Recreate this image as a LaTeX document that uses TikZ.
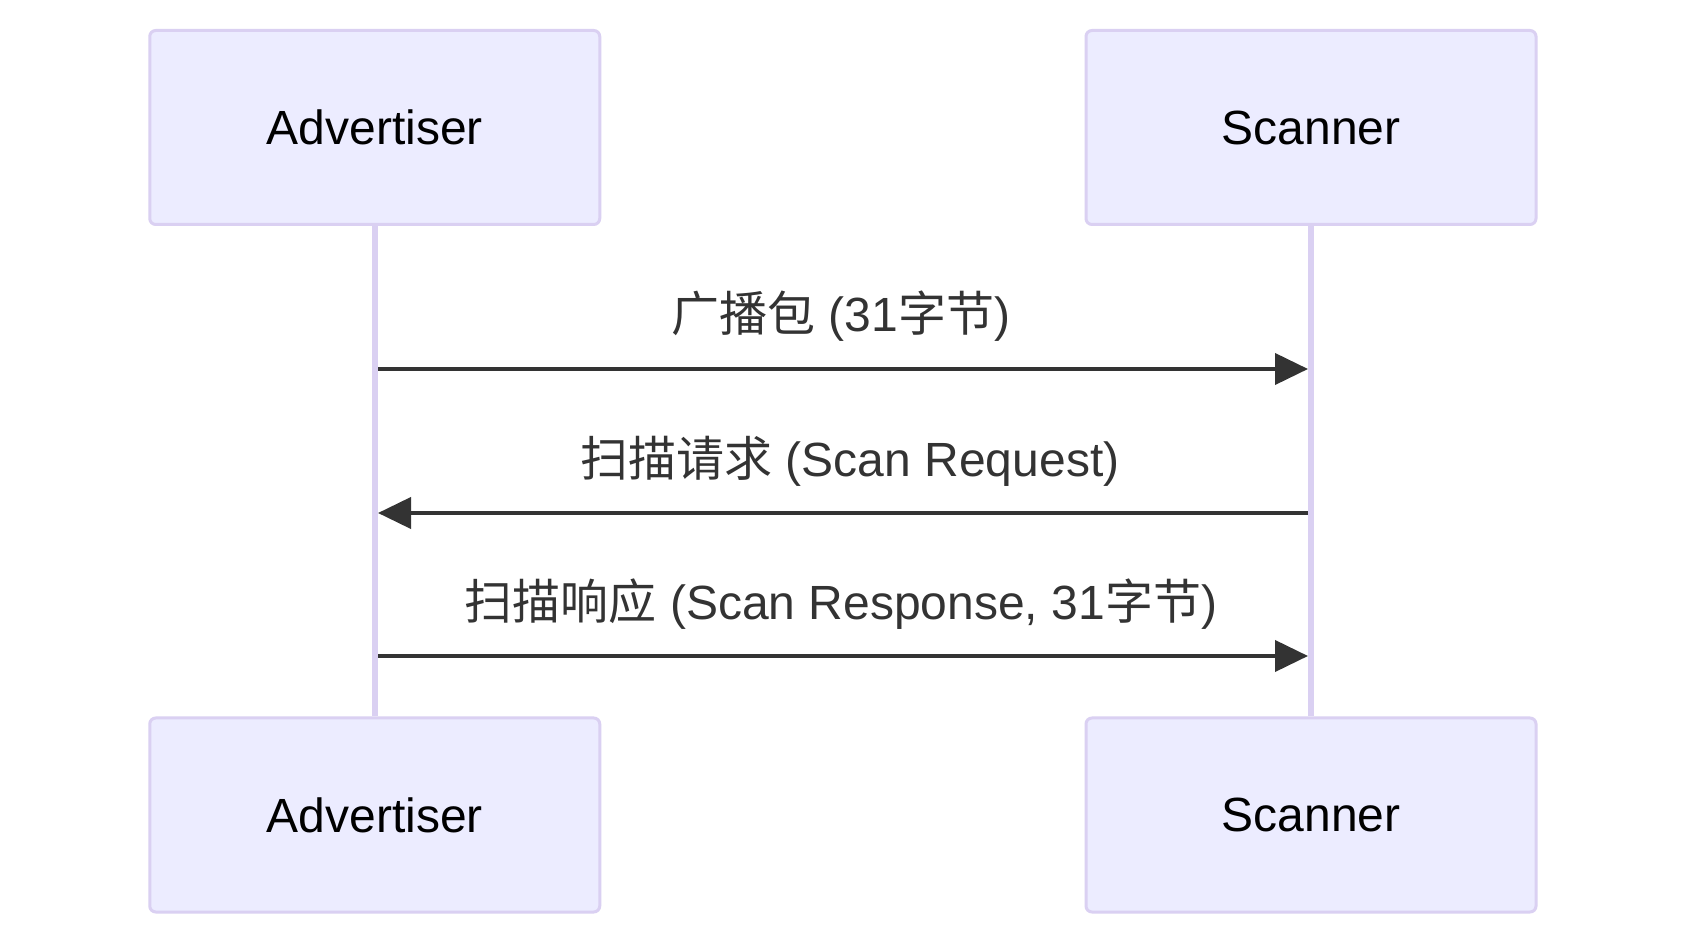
\documentclass[tikz,border=0pt]{standalone}
\usepackage{fontspec}
\setmainfont{Liberation Sans}
\newfontfamily\cjk{Noto Sans CJK SC}
\usepackage{tikz}
\usetikzlibrary{arrows.meta}
\definecolor{actorfill}{HTML}{ECECFF}
\definecolor{actorline}{HTML}{DAD0F2}
\definecolor{msgline}{HTML}{333333}

\begin{document}
\begin{tikzpicture}[x=0.5pt,y=-0.5pt,
  actor/.style={draw=actorline, fill=actorfill, line width=1.5pt, rounded corners=3pt,
    minimum width=225pt, minimum height=97pt, inner sep=0pt, font=\fontsize{24}{28}\selectfont},
  lifeline/.style={actorline, line width=3pt},
  msg/.style={msgline, line width=2pt, -{Triangle[length=16.5pt,width=15.5pt]}},
  msglabel/.style={text=msgline, font=\fontsize{24}{28}\selectfont, inner sep=0pt}]
\useasboundingbox [fill=white] (0,0) rectangle (1686,945);
\node [actor] (advtop) at (374.75,127.5) {Advertiser};
\node [actor] (scantop) at (1311,127.5) {Scanner};
\node [actor] (advbot) at (374.75,815) {Advertiser};
\node [actor] (scanbot) at (1311,815) {Scanner};
\draw [lifeline] (advtop.south) -- (advbot.north);
\draw [lifeline] (scantop.south) -- (scanbot.north);
\coordinate (a1) at (378,369);
\coordinate (s1) at (1308,369);
\coordinate (a2) at (378,513);
\coordinate (s2) at (1308,513);
\coordinate (a3) at (378,656);
\coordinate (s3) at (1308,656);
\draw [msg] (a1) -- (s1);
\draw [msg] (s2) -- (a2);
\draw [msg] (a3) -- (s3);
\node [msglabel] (l1) at (841,316) {{\cjk 广播包} (31{\cjk 字节})};
\node [msglabel] (l2) at (850,461) {{\cjk 扫描请求} (Scan Request)};
\node [msglabel] (l3) at (841,604) {{\cjk 扫描响应} (Scan Response, 31{\cjk 字节})};
\end{tikzpicture}
\end{document}
